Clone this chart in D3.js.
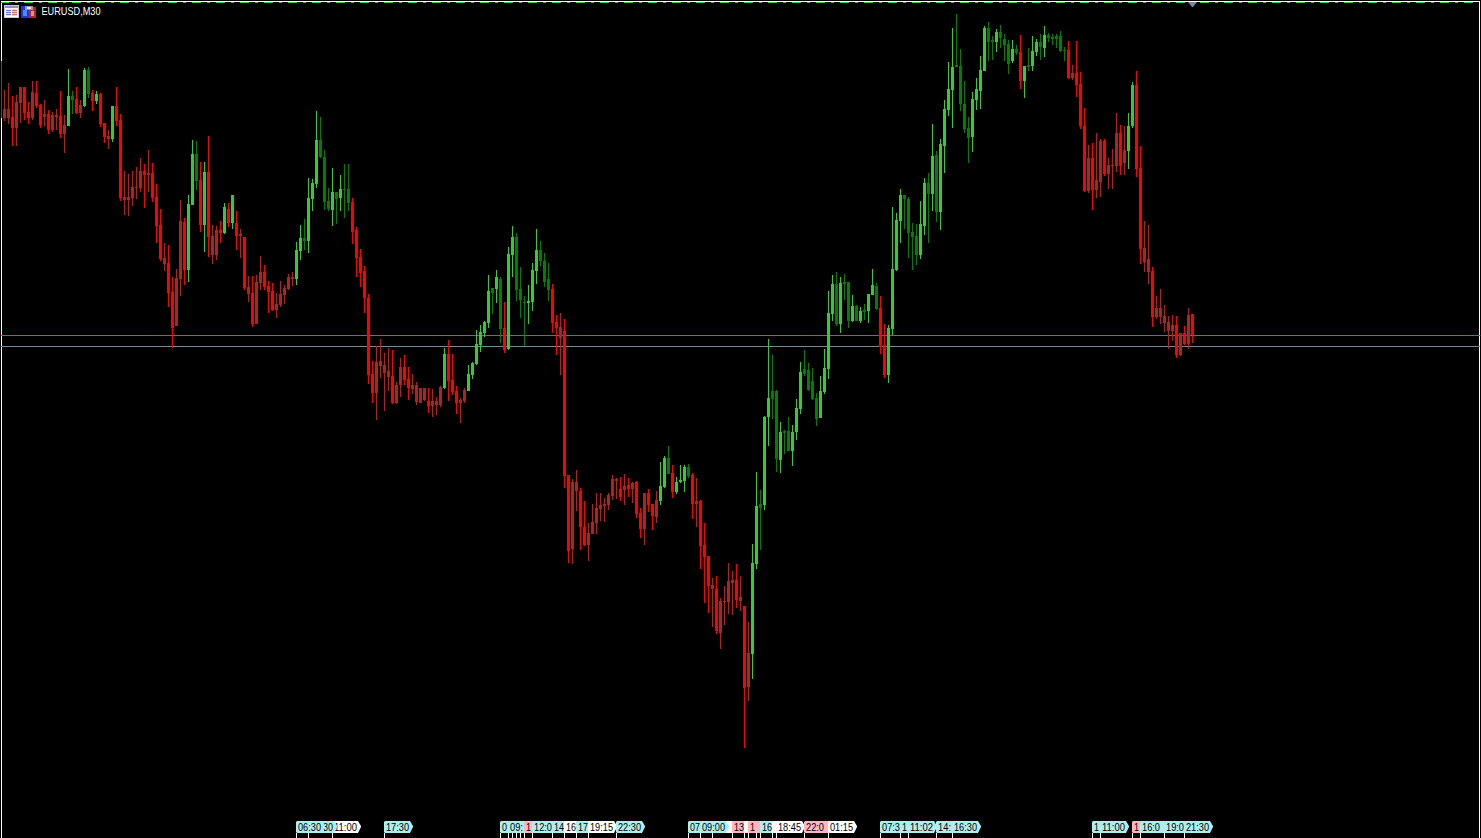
<!DOCTYPE html>
<html>
<head>
<meta charset="utf-8">
<title>EURUSD,M30</title>
<script src="https://cdn.jsdelivr.net/npm/d3@7/dist/d3.min.js"></script>
<style>
html,body{margin:0;padding:0;background:#000;overflow:hidden}
svg{display:block}
</style>
</head>
<body>
<div id="chart"></div>
<script>
// Prices are expressed in points above an arbitrary chart reference level.
const symbolLabel = "EURUSD,M30";
const highs = [
939,910,917,904,905,913,913,898,919,919,
896,900,890,888,891,909,885,931,909,913,
900,932,933,910,909,907,877,870,894,913,
886,829,826,829,833,842,836,850,837,816,
791,757,755,723,731,800,782,805,860,859,
838,838,864,775,774,779,797,797,805,789,
771,763,724,724,725,744,735,719,717,707,
719,715,726,728,758,775,781,822,821,889,
883,850,812,832,808,825,836,836,802,773,
751,734,706,639,654,661,647,652,650,618,
642,645,633,626,618,612,612,612,611,603,
614,652,660,646,614,602,612,635,638,670,
675,679,725,712,730,723,698,753,774,767,
733,704,715,737,771,759,747,737,716,685,
687,681,525,521,530,512,499,477,496,507,
507,502,507,525,522,523,526,522,518,519,
492,507,511,496,509,538,544,554,535,523,
535,535,536,527,522,500,477,444,422,424,
402,414,437,429,436,424,394,378,456,528,
510,584,661,645,610,578,570,583,575,601,
638,650,637,632,607,624,651,709,725,728,
723,726,718,705,695,693,696,706,731,717,
704,676,675,793,787,811,805,803,777,776,
799,822,827,876,849,861,900,938,972,986,
951,919,883,908,922,944,974,978,964,971,
975,966,960,960,955,965,934,952,964,961,
966,974,967,966,966,969,953,959,935,959,
928,892,855,857,867,861,861,842,851,887,
875,874,887,918,929,854,779,775,733,704,
711,695,684,685,684,667,674,692,686];
const bodyTops = [
939,891,891,883,898,913,913,888,908,907,
895,886,886,885,885,884,875,904,904,901,
895,930,930,907,906,906,877,864,894,894,
880,803,803,813,813,829,829,827,827,803,
775,742,737,708,722,779,778,796,846,846,
820,828,828,764,770,770,793,791,805,777,
766,763,713,707,718,728,728,714,709,696,
706,712,723,723,750,762,762,802,817,860,
860,843,799,808,808,811,811,811,798,770,
743,729,702,626,638,639,635,629,624,615,
633,633,621,615,615,612,612,599,599,599,
613,646,646,620,609,600,610,626,637,656,
668,678,709,712,723,721,672,746,763,763,
711,698,699,730,750,750,739,721,711,678,
673,669,525,518,518,509,473,467,478,492,
495,496,505,521,521,511,514,515,517,518,
487,507,507,496,500,514,542,542,527,518,
520,533,533,525,499,499,455,444,415,411,
399,399,419,420,420,403,394,347,437,494,
496,583,602,609,609,568,569,569,568,592,
628,631,630,619,602,609,632,687,716,716,
717,718,718,694,694,689,690,706,715,714,
692,655,672,731,780,805,805,801,768,764,
776,817,817,844,845,856,891,911,933,935,
934,896,872,901,911,930,972,972,960,968,
968,961,956,951,951,948,934,935,949,958,
958,965,965,963,964,964,950,950,927,927,
916,874,842,842,820,859,859,835,835,867,
867,850,874,915,915,832,752,741,729,692,
692,684,678,675,675,667,667,685,686];
const bodyBottoms = [
882,882,882,872,872,897,887,882,882,894,
875,883,870,870,883,866,866,874,900,887,
887,894,906,899,899,876,863,861,861,879,
802,800,800,802,812,812,825,825,802,774,
741,736,707,672,674,721,730,730,795,819,
775,775,763,745,745,767,767,777,777,764,
764,712,706,676,676,717,713,708,690,690,
695,705,711,721,721,749,759,759,801,816,
843,798,791,790,801,802,810,797,768,742,
727,702,625,607,607,634,627,623,597,597,
615,620,612,611,598,597,600,594,594,595,
595,612,619,608,597,597,599,609,625,636,
655,667,677,707,711,671,650,651,745,710,
700,697,697,698,729,739,718,710,677,672,
662,524,449,451,509,473,455,455,466,477,
491,494,495,504,519,503,510,511,511,486,
471,471,495,484,483,499,513,526,508,508,
518,519,524,496,496,454,443,414,411,369,
367,398,398,417,400,399,312,313,346,436,
492,495,583,601,541,540,567,549,549,568,
591,626,610,601,581,582,608,631,686,676,
676,716,679,679,679,679,688,689,705,691,
653,625,625,671,730,779,801,767,763,745,
745,774,806,806,788,788,854,890,910,933,
896,871,862,863,900,909,929,958,958,958,
962,955,936,939,947,919,919,933,934,948,
953,952,962,961,961,949,949,922,922,915,
874,809,809,810,810,818,826,826,834,834,
834,837,849,874,831,751,738,728,683,683,
683,677,669,669,645,645,656,656,665];
const lows = [
882,879,876,854,854,877,880,876,880,892,
872,874,866,868,870,862,847,874,886,886,
882,893,902,889,896,873,857,851,858,874,
799,785,784,794,801,808,792,808,798,757,
739,729,693,652,674,704,715,718,795,810,
768,748,743,736,740,757,766,773,771,750,
742,710,698,673,676,710,710,687,689,682,
693,696,710,714,715,740,750,747,789,812,
842,790,789,774,776,789,782,789,756,723,
713,687,616,597,580,622,589,609,596,596,
603,615,600,606,595,597,599,587,583,585,
593,611,599,605,586,577,597,609,621,635,
648,663,672,686,697,657,647,650,723,699,
682,654,676,689,716,734,713,699,667,645,
625,512,437,436,489,450,454,439,466,466,
479,478,490,500,501,499,495,503,497,482,
462,455,488,470,477,495,512,526,502,506,
517,508,522,481,473,431,397,387,373,366,
351,375,386,385,392,389,252,299,321,431,
450,490,554,581,528,527,546,549,534,560,
586,624,609,600,574,582,606,621,679,674,
667,700,672,678,679,677,680,677,705,690,
646,622,617,665,729,757,771,742,730,735,
741,765,757,789,778,770,827,884,872,933,
889,867,837,848,890,891,929,939,940,948,
952,939,926,937,945,911,902,929,929,944,
940,943,958,955,952,948,939,921,920,903,
871,808,807,790,802,803,824,811,811,828,
825,825,831,872,823,736,728,716,673,681,
676,668,651,659,642,644,655,651,657];
// R red, B brown, L lime, G dark green
const kinds = (
"RBBRBBRRBR"+"RBRBBRBLGR"+"BLGRLRRBLR"+"RBBBBBRBRR"+"RBRRBBRLLG"+
"RLRBBRLRLR"+"BRBRBBRRRB"+"BBBBLLGLLL"+"GGGLGLGGRR"+"RRRRBBBBRB"+
"BRRBBBBRBB"+"BLRRRBBLLL"+"LLLGLGRLLG"+"GGLLLGGGRR"+"BRRBBRRBBB"+
"BBBBBRBRBR"+"RBRRBLLGRL"+"LLGRBRRRBR"+"BBBBRBRBLL"+"GLLGGLGGLL"+
"LGGGGLLLLG"+"LGGLGLGLLG"+"RRLLLLGGGG"+"LLGLGLLLLG"+"GGGLLLLGGL"+
"GGGLGRLGLL"+"GLGGGGGRBR"+"RRBRBBRBBB"+"RBLLRRBBRB"+"BBBBRBRBR").split("");
const kindColor = {R:"#ff0000", B:"#b22222", L:"#32cd32", G:"#008000"};

// horizontal levels, same point units as the candles
const levelValues = [665, 654];
const levelColors = ["#1fa51f", "#778899"];

// event tags on the time axis, in painting order; texts are what stays readable
const tagBars  = [83, 77, 74, 96, 125,127,131,133,138,141,144,147,154,
                  172,178,175,183,186,187,189,190,193,194,201,207,
                  220,225,227,234,238,273,275,283,285,291,296];
const tagTexts = ["11:00","30","06:30","17:30","0","09:","1","12:0","14","16","17","19:15","22:30",
                  "07","","09:00","13","","1","","16","","18:45","22:0","01:15",
                  "07:3","1","11:02","14:","16:30","1","11:00","1","16:0","19:0","21:30"];
const tagKinds = ["w","c","c","c","c","c","p","c","c","w","c","w","c",
                  "c","w","c","p","w","p","p","c","w","w","p","w",
                  "c","c","c","c","c","c","c","p","c","c","c"];
const tagFill = {c:"#afeeee", p:"#ffb6c1", w:"#ffffff"};
const extraTickBars = [128,129,130];

const W = 1481, H = 838;
const svg = d3.select("#chart").append("svg").attr("width",W).attr("height",H)
  .style("background","#000");

svg.append("clipPath").attr("id","plot").append("rect")
  .attr("x",1).attr("y",0).attr("width",1479).attr("height",H);

const x = d3.scaleLinear().domain([0,298]).range([0,1192]);
const y = d3.scaleLinear().domain([1000,162]).range([0,838]);
const n = highs.length;
const idx = d3.range(n);

// frame
const frame = svg.append("g").attr("shape-rendering","crispEdges").attr("clip-path","url(#plot)");
frame.append("rect").attr("x",1).attr("y",1).attr("width",1479).attr("height",1).attr("fill","#fff");
frame.append("rect").attr("x",1).attr("y",1).attr("width",1).attr("height",H-1).attr("fill","#fff");
frame.append("rect").attr("x",1479).attr("y",1).attr("width",1).attr("height",H-1).attr("fill","#fff");
frame.append("line").attr("x1",0).attr("x2",1473).attr("y1",2.5).attr("y2",2.5)
  .attr("stroke","#32cd32").attr("stroke-dasharray","9 6 3 6");

// levels
svg.append("g").attr("shape-rendering","crispEdges").selectAll("line").data(levelValues).join("line")
  .attr("x1",1).attr("x2",1480)
  .attr("y1",d=>y(d)+0.5).attr("y2",d=>y(d)+0.5)
  .attr("stroke",(d,i)=>levelColors[i]);

// candles
const candles = svg.append("g").attr("shape-rendering","crispEdges").attr("clip-path","url(#plot)");
candles.selectAll("rect.wick").data(idx).join("rect").attr("class","wick")
  .attr("x",i=>x(i)).attr("width",1)
  .attr("y",i=>y(highs[i])).attr("height",i=>y(lows[i])-y(highs[i]))
  .attr("fill",i=>kindColor[kinds[i]]);
candles.selectAll("rect.body").data(idx).join("rect").attr("class","body")
  .attr("x",i=>x(i)-1).attr("width",3)
  .attr("y",i=>y(bodyTops[i])).attr("height",i=>Math.max(1,y(bodyBottoms[i])-y(bodyTops[i])))
  .attr("fill",i=>kindColor[kinds[i]]);

// last-bar marker
svg.append("path")
  .attr("d",d3.line()([[x(298)-4,2],[x(298)+5,2],[x(298)+1,7],[x(298),7]])+"Z")
  .attr("fill","#778899");

// event tags
const tagTop = 821, tagH = 12, tagW = 25, tagTip = 4;
const digitW = 5, colonW = 3, tagTextW = 23;
const textW = t => Array.from(t).reduce((s,c)=>s+(c===":"?colonW:digitW),0);
const tags = svg.append("g");
tags.selectAll("rect.tick").data(tagBars.concat(extraTickBars)).join("rect").attr("class","tick")
  .attr("x",d=>x(d)).attr("y",tagTop+tagH).attr("width",1).attr("height",5)
  .attr("fill","#fff").attr("shape-rendering","crispEdges");
const tagG = tags.selectAll("g").data(tagBars.map((b,i)=>i)).join("g")
  .attr("transform",i=>`translate(${x(tagBars[i])},${tagTop})`);
tagG.append("path")
  .attr("d",`M1,0H${tagW+1}L${tagW+tagTip},${tagH/2-1}V${tagH/2}L${tagW+1},${tagH}H1L0,${tagH-1}V1Z`)
  .attr("fill",i=>tagFill[tagKinds[i]]);
tagG.filter(i=>tagTexts[i]!=="").append("text").text(i=>tagTexts[i])
  .attr("x",i=>tagTexts[i]==="30"?2+tagTextW-textW("30"):2).attr("y",10)
  .attr("font-family","'Liberation Sans',sans-serif")
  .attr("font-size","11px")
  .attr("textLength",i=>textW(tagTexts[i]))
  .attr("lengthAdjust","spacingAndGlyphs")
  .attr("fill","#000");

// title
svg.append("text").text(symbolLabel).attr("x",41.5).attr("y",15)
  .attr("font-family","'Liberation Sans',sans-serif").attr("font-size","11px")
  .attr("textLength",59).attr("lengthAdjust","spacingAndGlyphs").attr("fill","#fff");

// window icons
const ic = svg.append("g").attr("shape-rendering","crispEdges");
function r(a,b,w,h,f){ic.append("rect").attr("x",a).attr("y",b).attr("width",w).attr("height",h).attr("fill",f);}
r(4,5,15,13,"#c8c8dc"); r(5,6,13,11,"#fff");
r(5,6,13,2,"#8c8cc8");
r(6,9,5,7,"#d8e4f8"); r(12,9,5,7,"#f8d0c8");
[10,12,14].forEach(b=>{r(6,b,5,1,"#6a78c8"); r(12,b,5,1,"#d87060");});
r(21,6,8,12,"#2038d0"); r(23,10,4,6,"#6080f0");
r(29,7,7,11,"#b02828"); r(31,11,3,5,"#e09090");
r(25,6,8,4,"#989898"); r(27,7,4,2,"#e8e8e8");
</script>
</body>
</html>
